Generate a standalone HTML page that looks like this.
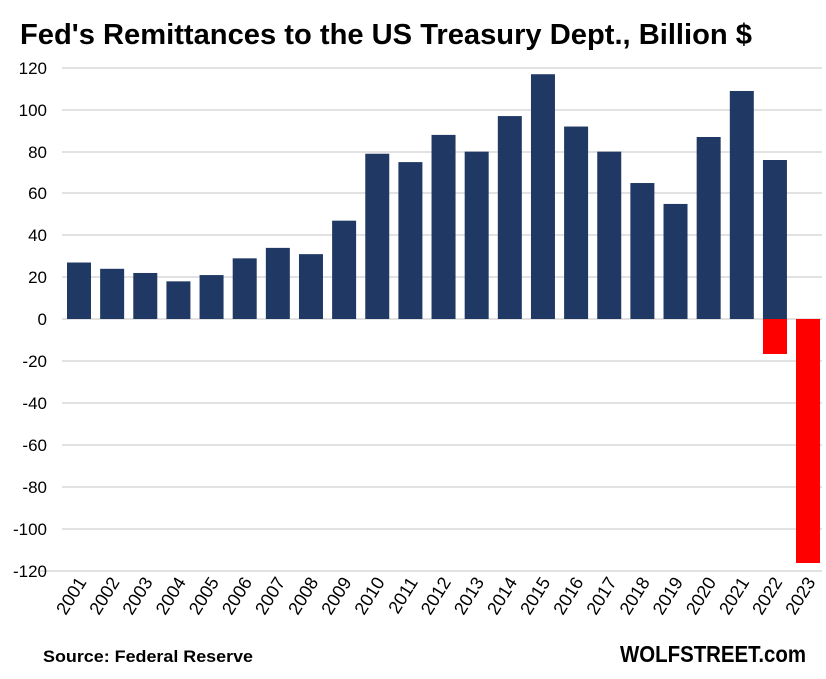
<!DOCTYPE html>
<html><head><style>body{margin:0;background:#fff}</style></head><body>
<svg width="826" height="674" xmlns="http://www.w3.org/2000/svg" font-family="Liberation Sans, sans-serif">
<rect width="826" height="674" fill="#fff"/>
<text x="20" y="44" font-size="29" font-weight="bold" fill="#000" textLength="732" lengthAdjust="spacingAndGlyphs">Fed's Remittances to the US Treasury Dept., Billion $</text>
<g stroke="#d9d9d9" stroke-width="1.5">
<line x1="62" x2="822" y1="68" y2="68"/><line x1="62" x2="822" y1="110" y2="110"/><line x1="62" x2="822" y1="152" y2="152"/><line x1="62" x2="822" y1="193" y2="193"/><line x1="62" x2="822" y1="235" y2="235"/><line x1="62" x2="822" y1="277" y2="277"/><line x1="62" x2="822" y1="319" y2="319"/><line x1="62" x2="822" y1="361" y2="361"/><line x1="62" x2="822" y1="403" y2="403"/><line x1="62" x2="822" y1="445" y2="445"/><line x1="62" x2="822" y1="487" y2="487"/><line x1="62" x2="822" y1="529" y2="529"/><line x1="40" x2="822" y1="571" y2="571"/>
</g>
<g font-size="17" fill="#000" text-anchor="end">
<text x="47" y="74">120</text><text x="47" y="116">100</text><text x="47" y="158">80</text><text x="47" y="199">60</text><text x="47" y="241">40</text><text x="47" y="283">20</text><text x="47" y="325">0</text><text x="47" y="367">-20</text><text x="47" y="409">-40</text><text x="47" y="451">-60</text><text x="47" y="493">-80</text><text x="47" y="535">-100</text><text x="47" y="577">-120</text>
</g>
<g fill="#203864" id="bars"></g>
<g fill="#ff0000"><rect x="763" y="319" width="24" height="35"/><rect x="796" y="319" width="24" height="244"/></g>
<g id="labels" font-size="18" fill="#000" text-anchor="end"></g>
<text x="43" y="662" font-size="17" font-weight="bold" textLength="210" lengthAdjust="spacingAndGlyphs">Source: Federal Reserve</text>
<text x="806" y="662" font-size="23" font-weight="bold" text-anchor="end" textLength="186" lengthAdjust="spacingAndGlyphs">WOLFSTREET.com</text>
<script>
var v=[27,24,22,18,21,29,34,31,47,79,75,88,80,97,117,92,80,65,55,87,109,76];
var b=document.getElementById('bars'),l=document.getElementById('labels'),ns="http://www.w3.org/2000/svg";
for(var i=0;i<23;i++){var cx=79+i*33.14;
if(i<22){var r=document.createElementNS(ns,'rect');var h=v[i]*2.092;r.setAttribute('x',cx-12);r.setAttribute('y',319-h);r.setAttribute('width',24);r.setAttribute('height',h);b.appendChild(r);}
var t=document.createElementNS(ns,'text');t.setAttribute('transform','translate('+(cx+8)+',582) rotate(-58)');t.textContent=2001+i;l.appendChild(t);}
</script>
</svg>
</body></html>
